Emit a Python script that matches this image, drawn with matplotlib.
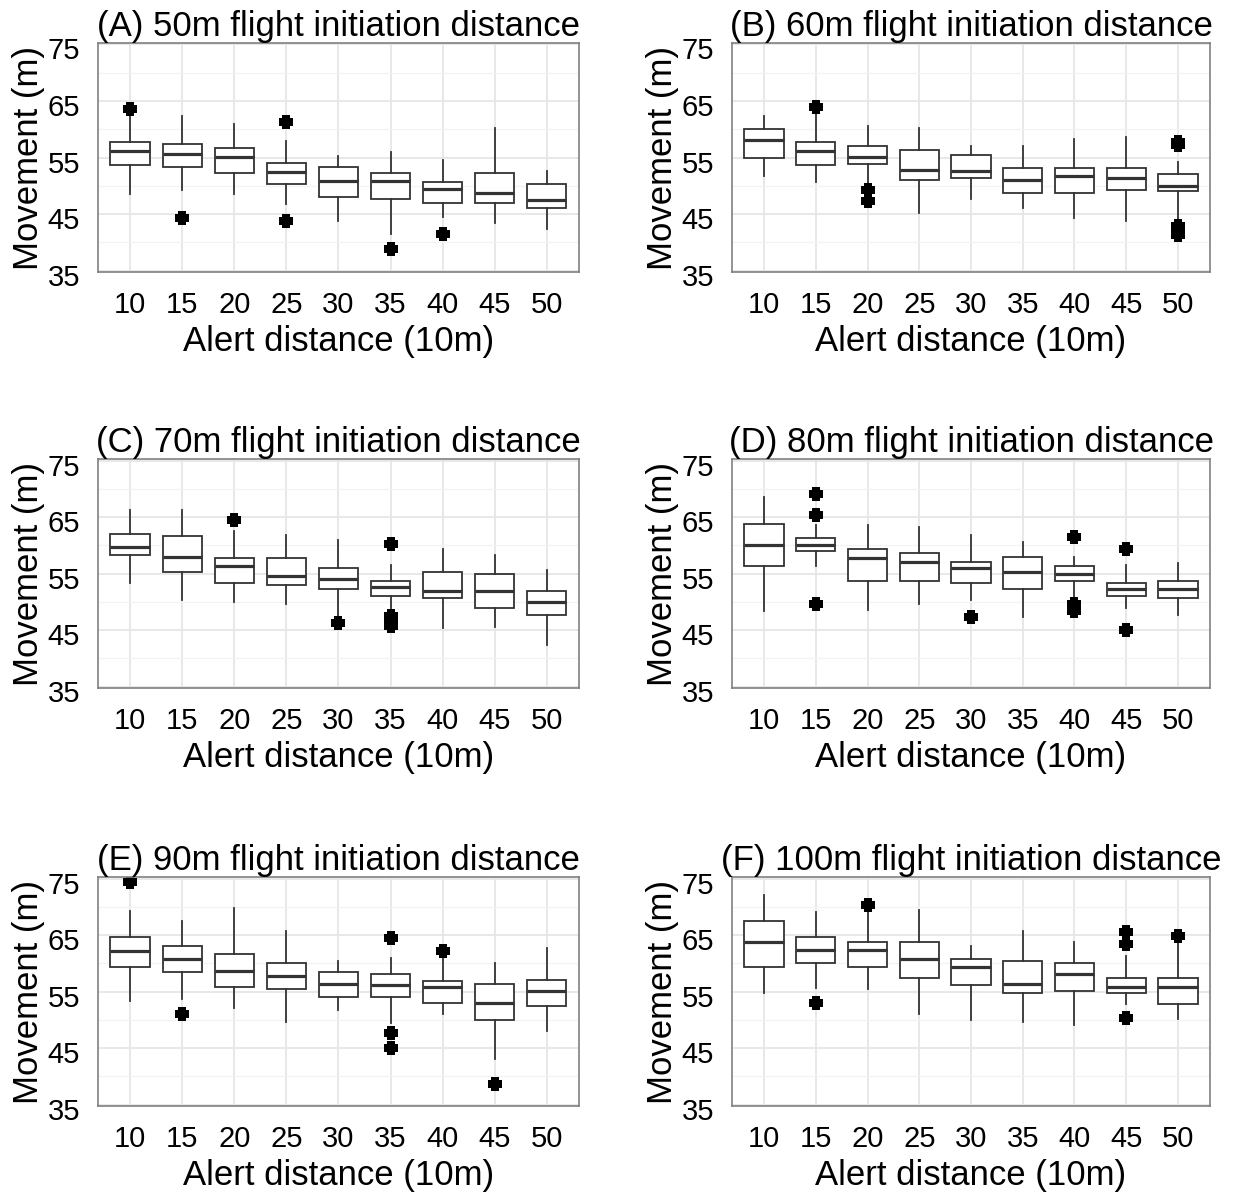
import matplotlib
matplotlib.use("Agg")
import matplotlib.pyplot as plt
from matplotlib.ticker import MultipleLocator
from matplotlib.path import Path
from matplotlib.transforms import ScaledTranslation

plt.rcParams['font.family'] = ['Liberation Sans', 'DejaVu Sans']

alert = ["10", "15", "20", "25", "30", "35", "40", "45", "50"]
titles = ["(A) 50m flight initiation distance", "(B) 60m flight initiation distance",
          "(C) 70m flight initiation distance", "(D) 80m flight initiation distance",
          "(E) 90m flight initiation distance", "(F) 100m flight initiation distance"]

# per panel: lists over alert distance (whisker low, q1, median, q3, whisker high)
whislo_A = [48.5, 49.3, 48.5, 46.7, 43.7, 41.4, 44.4, 43.4, 42.4]
q1_A = [53.6, 53.3, 52.3, 50.3, 48.0, 47.6, 47.0, 47.0, 46.0]
med_A = [56.1, 55.7, 55.1, 52.4, 50.8, 50.8, 49.4, 48.7, 47.4]
q3_A = [57.7, 57.4, 56.7, 54.1, 53.3, 52.3, 50.7, 52.3, 50.3]
whishi_A = [62.3, 62.3, 60.9, 58.0, 55.3, 55.9, 54.6, 60.3, 52.6]
fliers_A = [[63.6], [44.3], [], [61.3, 43.7], [], [38.9], [41.4], [], []]

whislo_B = [51.8, 50.7, 50.1, 45.1, 47.7, 46.0, 44.3, 43.7, 44.1]
q1_B = [55.0, 53.6, 53.9, 51.0, 51.3, 48.7, 48.7, 49.3, 49.0]
med_B = [58.1, 56.1, 55.1, 52.8, 52.7, 51.0, 51.7, 51.4, 50.0]
q3_B = [60.0, 57.7, 57.0, 56.4, 55.4, 53.1, 53.1, 53.1, 52.0]
whishi_B = [62.3, 63.1, 60.6, 60.3, 57.0, 57.0, 58.3, 58.6, 54.2]
fliers_B = [[], [64.0], [49.3, 47.3], [], [], [], [], [], [57.8, 57.2, 42.8, 41.8, 41.3]]

whislo_C = [53.3, 50.3, 50.0, 49.7, 47.0, 48.1, 45.3, 45.6, 42.3]
q1_C = [58.3, 55.2, 53.3, 52.9, 52.3, 51.0, 50.6, 48.9, 47.6]
med_C = [59.7, 58.0, 56.3, 54.6, 54.0, 52.6, 52.0, 52.0, 50.0]
q3_C = [62.0, 61.6, 57.7, 57.7, 56.0, 53.6, 55.3, 54.9, 52.0]
whishi_C = [66.3, 66.3, 62.6, 61.9, 60.9, 56.6, 59.3, 58.3, 55.6]
fliers_C = [[], [], [64.4], [], [46.3], [60.2, 47.5, 46.6, 45.7], [], [], []]

whislo_D = [48.3, 56.3, 48.6, 49.7, 50.3, 47.3, 50.0, 48.9, 47.6]
q1_D = [56.3, 59.0, 53.6, 53.6, 53.3, 52.3, 53.6, 51.0, 50.6]
med_D = [60.0, 60.0, 57.7, 57.0, 56.0, 55.3, 55.0, 52.3, 52.3]
q3_D = [63.7, 61.3, 59.3, 58.6, 57.0, 58.0, 56.3, 53.3, 53.6]
whishi_D = [68.6, 63.6, 63.6, 63.2, 61.9, 60.6, 57.9, 56.6, 56.9]
fliers_D = [[], [69.0, 65.3, 49.6], [], [], [47.3], [], [61.4, 49.6, 48.9, 48.4], [59.4, 45.0], []]

whislo_E = [53.4, 53.7, 52.1, 49.7, 51.7, 49.4, 51.1, 43.0, 48.1]
q1_E = [59.4, 58.4, 55.8, 55.4, 54.1, 54.1, 53.0, 50.0, 52.4]
med_E = [62.1, 60.7, 58.7, 57.7, 56.4, 56.1, 55.8, 53.0, 55.1]
q3_E = [64.7, 63.1, 61.7, 60.1, 58.4, 58.1, 56.8, 56.4, 57.1]
whishi_E = [69.3, 67.4, 69.7, 65.7, 60.4, 61.0, 61.6, 60.0, 62.7]
fliers_E = [[74.4], [51.1], [], [], [], [64.4, 47.7, 45.0], [62.1], [38.7], []]

whislo_F = [54.8, 55.7, 55.4, 51.1, 50.0, 49.7, 49.1, 52.8, 50.1]
q1_F = [59.4, 60.0, 59.4, 57.4, 56.1, 54.7, 55.1, 54.8, 52.8]
med_F = [63.8, 62.4, 62.4, 60.7, 59.4, 56.4, 58.1, 55.8, 55.8]
q3_F = [67.4, 64.7, 63.8, 63.8, 60.7, 60.4, 60.0, 57.4, 57.4]
whishi_F = [72.0, 69.1, 69.6, 69.4, 63.0, 65.7, 63.7, 61.3, 64.3]
fliers_F = [[], [53.0], [70.3], [], [], [], [], [65.5, 63.4, 50.4], [64.8]]

panels = [
    (whislo_A, q1_A, med_A, q3_A, whishi_A, fliers_A),
    (whislo_B, q1_B, med_B, q3_B, whishi_B, fliers_B),
    (whislo_C, q1_C, med_C, q3_C, whishi_C, fliers_C),
    (whislo_D, q1_D, med_D, q3_D, whishi_D, fliers_D),
    (whislo_E, q1_E, med_E, q3_E, whishi_E, fliers_E),
    (whislo_F, q1_F, med_F, q3_F, whishi_F, fliers_F),
]

# chunky plus shaped point, like the low-res outlier dots
a = 0.6
dot = Path([(-a, -1), (a, -1), (a, -a), (1, -a), (1, a), (a, a), (a, 1), (-a, 1),
            (-a, a), (-1, a), (-1, -a), (-a, -a), (-a, -1)], closed=True)

fig = plt.figure(figsize=(12.39, 11.97), dpi=100)

# axes boxes in figure fractions (left col, right col / three rows)
lefts = [0.0791, 0.5908]
widths = [0.3882, 0.3858]
bottoms = [0.7728, 0.4252, 0.0760]
height = 0.1910

box_col = "#333333"
down = ScaledTranslation(0, -4 / 100, fig.dpi_scale_trans)
for i, (lo, q1, med, q3, hi, fl) in enumerate(panels):
    r, c = divmod(i, 2)
    ax = fig.add_axes([lefts[c], bottoms[r], widths[c], height])
    stats = []
    for k in range(len(alert)):
        stats.append(dict(whislo=lo[k], q1=q1[k], med=med[k], q3=q3[k],
                          whishi=hi[k], fliers=fl[k], label=alert[k]))
    ax.bxp(stats, positions=range(len(alert)), widths=0.76, showcaps=False,
           patch_artist=True,
           boxprops=dict(facecolor="white", edgecolor=box_col, linewidth=1.3),
           whiskerprops=dict(color=box_col, linewidth=1.3),
           medianprops=dict(color=box_col, linewidth=2.3, solid_capstyle="butt"),
           flierprops=dict(marker=dot, markerfacecolor="black", markeredgecolor="black",
                           markeredgewidth=0, markersize=10.5))
    ax.set_xlim(-0.62, 8.62)
    ax.set_ylim(34.75, 75.2)
    ax.yaxis.set_minor_locator(MultipleLocator(10))
    ax.set_yticks([35, 45, 55, 65, 75])
    ax.grid(True, which="major", color="#e6e6e6", linewidth=1.3)
    ax.grid(True, which="minor", axis="y", color="#f3f3f3", linewidth=0.9)
    ax.set_axisbelow(True)
    ax.tick_params(axis="both", which="both", length=0, labelsize=21,
                   labelcolor="black")
    ax.tick_params(axis="x", pad=14)
    ax.tick_params(axis="y", pad=13)
    for lab in ax.get_yticklabels():
        lab.set_transform(lab.get_transform() + down)
    for s in ax.spines.values():
        s.set_color("#808080")
        s.set_linewidth(1.2)
    ax.set_xlabel("Alert distance (10m)", fontsize=25, labelpad=4)
    ax.set_ylabel("Movement (m)", fontsize=25, labelpad=2)
    ax.set_title(titles[i], fontsize=25, pad=4)

fig.savefig("out.png", dpi=100)
